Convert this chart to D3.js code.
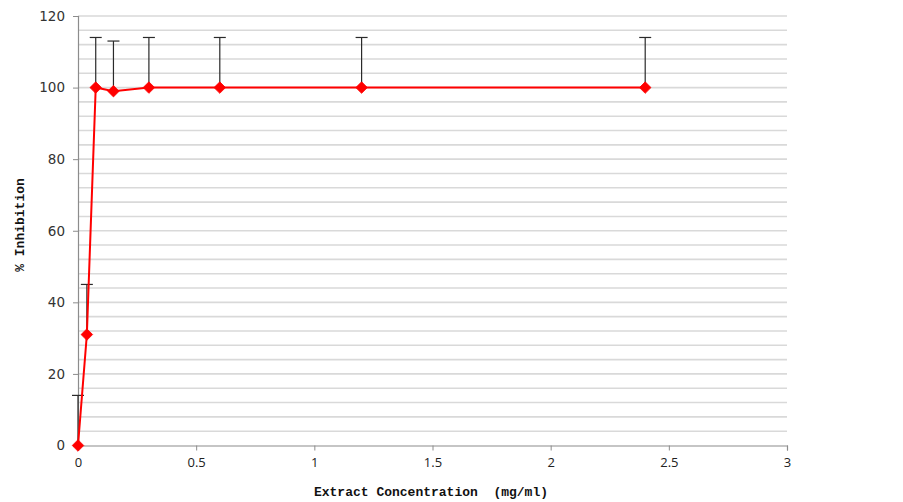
<!DOCTYPE html>
<html>
<head>
<meta charset="utf-8">
<script src="https://cdn.jsdelivr.net/npm/d3@7"></script>
<style>
  html, body { margin: 0; padding: 0; background: #fff; }
  svg { display: block; }
</style>
</head>
<body>
<svg id="chart" width="903" height="502"></svg>
<script>
// Data
const concentrations = [0, 0.0375, 0.075, 0.15, 0.3, 0.6, 1.2, 2.4];
const inhibition     = [0, 31, 100, 99, 100, 100, 100, 100];
const errorUp        = [14, 14, 14, 14, 14, 14, 14, 14];
const xTicks = [0, 0.5, 1, 1.5, 2, 2.5, 3];
const xTickLabels = ["0", "0.5", "1", "1.5", "2", "2.5", "3"];
const yTicks = [0, 20, 40, 60, 80, 100, 120];
const yGrid = d3.range(0, 121, 4);
const xTitle = "Extract Concentration  (mg/ml)";
const yTitle = "% Inhibition";

(function () {
const svg = d3.select("#chart");
const mLeft = 78, mRight = 787, mTop = 16, mBottom = 445.5;

const x = d3.scaleLinear().domain([0, 3]).range([mLeft, mRight]);
const y = d3.scaleLinear().domain([0, 120]).range([mBottom, mTop]);

// gridlines
svg.append("g").selectAll("line").data(yGrid.filter(v => v > 0)).join("line")
  .attr("x1", mLeft).attr("x2", mRight)
  .attr("y1", d => y(d)).attr("y2", d => y(d))
  .attr("stroke", "#d9d9d9").attr("stroke-width", 1.6);

// y axis
const yAxis = d3.axisLeft(y).tickValues(yTicks).tickSize(5).tickPadding(8);
const gy = svg.append("g").attr("transform", `translate(${mLeft},0)`).call(yAxis);
gy.select(".domain").attr("stroke", "#8c8c8c").attr("stroke-width", 1.2);
gy.selectAll(".tick line").attr("stroke", "#8c8c8c");
gy.selectAll("text").attr("font-family", "DejaVu Sans").attr("font-size", 13.5).attr("fill", "#333");

// x axis
const xAxis = d3.axisBottom(x).tickValues(xTicks).tickFormat((d, i) => xTickLabels[i]).tickSize(5).tickPadding(7);
const gx = svg.append("g").attr("transform", `translate(0,${mBottom})`).call(xAxis);
gx.select(".domain").attr("stroke", "#8c8c8c").attr("stroke-width", 1.2);
gx.selectAll(".tick line").attr("stroke", "#8c8c8c");
gx.selectAll("text").attr("font-family", "Open Sans").attr("font-size", 13).attr("fill", "#222");

// error bars
const eb = svg.append("g").attr("stroke", "#2a2a2a").attr("stroke-width", 1.2);
concentrations.forEach((c, i) => {
  const cx = x(c), y0 = y(inhibition[i]), y1 = y(inhibition[i] + errorUp[i]);
  eb.append("line").attr("x1", cx).attr("x2", cx).attr("y1", y0).attr("y2", y1);
  eb.append("line").attr("x1", cx - 6).attr("x2", cx + 6).attr("y1", y1).attr("y2", y1);
});

// line
const line = d3.line().x((d, i) => x(concentrations[i])).y(d => y(d));
svg.append("path").datum(inhibition).attr("d", line)
  .attr("fill", "none").attr("stroke", "#ff0000").attr("stroke-width", 2);

// markers
const diamond = d3.symbol().type(d3.symbolDiamond2).size(85);
svg.append("g").selectAll("path").data(inhibition).join("path")
  .attr("d", diamond)
  .attr("transform", (d, i) => `translate(${x(concentrations[i])},${y(d)})`)
  .attr("fill", "#ff0000").attr("stroke", "#ff0000").attr("stroke-width", 0.8);

// titles
svg.append("text").attr("x", 431).attr("y", 496)
  .attr("text-anchor", "middle").attr("font-family", "Liberation Mono").attr("font-weight", "bold")
  .attr("font-size", 13).attr("fill", "#111").style("white-space", "pre").text(xTitle);
svg.append("text").attr("transform", `translate(24,225) rotate(-90)`)
  .attr("text-anchor", "middle").attr("font-family", "Liberation Mono").attr("font-weight", "bold")
  .attr("font-size", 13).attr("fill", "#111").text(yTitle);
})();
</script>
</body>
</html>
